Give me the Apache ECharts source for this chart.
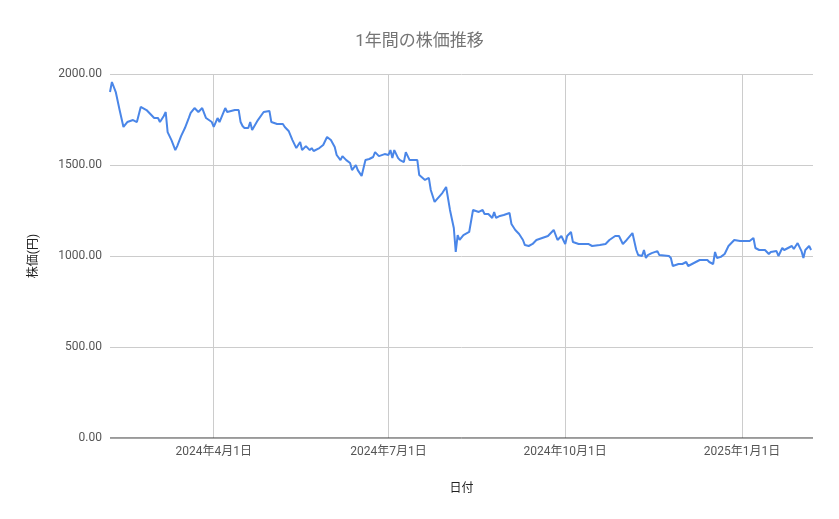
<!DOCTYPE html>
<html><head><meta charset="utf-8">
<script src="https://cdn.jsdelivr.net/npm/echarts@6/dist/echarts.min.js"></script>
<style>html,body{margin:0;padding:0;background:#fff}#c{width:839px;height:519px}</style>
</head><body><div id="c"></div>
<script>
const dates = ["2024-02-07","2024-02-08","2024-02-10","2024-02-12","2024-02-14","2024-02-16","2024-02-19","2024-02-21","2024-02-23","2024-02-26","2024-02-28","2024-03-01","2024-03-03","2024-03-04","2024-03-06","2024-03-07","2024-03-08","2024-03-10","2024-03-12","2024-03-13","2024-03-15","2024-03-17","2024-03-19","2024-03-20","2024-03-22","2024-03-24","2024-03-26","2024-03-28","2024-03-31","2024-04-01","2024-04-03","2024-04-04","2024-04-07","2024-04-08","2024-04-12","2024-04-14","2024-04-15","2024-04-16","2024-04-17","2024-04-19","2024-04-20","2024-04-21","2024-04-24","2024-04-27","2024-04-30","2024-05-01","2024-05-04","2024-05-07","2024-05-08","2024-05-10","2024-05-12","2024-05-13","2024-05-14","2024-05-16","2024-05-17","2024-05-19","2024-05-21","2024-05-22","2024-05-23","2024-05-26","2024-05-28","2024-05-30","2024-06-01","2024-06-03","2024-06-04","2024-06-06","2024-06-07","2024-06-09","2024-06-11","2024-06-12","2024-06-14","2024-06-15","2024-06-17","2024-06-18","2024-06-19","2024-06-21","2024-06-23","2024-06-24","2024-06-26","2024-06-27","2024-06-29","2024-07-01","2024-07-02","2024-07-03","2024-07-04","2024-07-06","2024-07-07","2024-07-09","2024-07-10","2024-07-12","2024-07-16","2024-07-17","2024-07-20","2024-07-22","2024-07-23","2024-07-25","2024-07-29","2024-07-31","2024-08-02","2024-08-04","2024-08-05","2024-08-06","2024-08-07","2024-08-09","2024-08-12","2024-08-14","2024-08-17","2024-08-19","2024-08-20","2024-08-22","2024-08-24","2024-08-25","2024-08-26","2024-08-28","2024-08-30","2024-09-02","2024-09-03","2024-09-05","2024-09-07","2024-09-09","2024-09-10","2024-09-12","2024-09-13","2024-09-14","2024-09-16","2024-09-19","2024-09-22","2024-09-25","2024-09-27","2024-09-29","2024-10-01","2024-10-02","2024-10-04","2024-10-05","2024-10-06","2024-10-08","2024-10-13","2024-10-15","2024-10-19","2024-10-22","2024-10-24","2024-10-27","2024-10-29","2024-10-31","2024-11-02","2024-11-05","2024-11-07","2024-11-08","2024-11-10","2024-11-11","2024-11-12","2024-11-13","2024-11-15","2024-11-18","2024-11-19","2024-11-24","2024-11-25","2024-11-26","2024-11-29","2024-12-01","2024-12-03","2024-12-04","2024-12-05","2024-12-08","2024-12-10","2024-12-11","2024-12-14","2024-12-15","2024-12-17","2024-12-18","2024-12-19","2024-12-21","2024-12-23","2024-12-25","2024-12-27","2024-12-28","2024-12-31","2025-01-02","2025-01-05","2025-01-07","2025-01-08","2025-01-10","2025-01-13","2025-01-15","2025-01-16","2025-01-19","2025-01-20","2025-01-22","2025-01-23","2025-01-25","2025-01-27","2025-01-28","2025-01-29","2025-01-30","2025-02-01","2025-02-02","2025-02-03","2025-02-05","2025-02-06"];
const prices = [1901,1956,1901,1802,1709,1736,1747,1736,1819,1802,1780,1758,1758,1736,1769,1791,1681,1637,1582,1604,1659,1703,1758,1786,1813,1791,1813,1758,1736,1709,1758,1736,1813,1791,1802,1802,1736,1714,1703,1703,1736,1692,1747,1791,1797,1736,1725,1725,1709,1687,1637,1615,1593,1626,1582,1604,1582,1593,1577,1593,1610,1654,1637,1599,1555,1527,1549,1527,1511,1472,1500,1472,1440,1484,1527,1533,1544,1571,1549,1549,1560,1555,1582,1538,1582,1538,1527,1516,1571,1527,1527,1445,1418,1429,1363,1297,1346,1379,1253,1154,1022,1115,1088,1115,1132,1253,1242,1253,1231,1231,1209,1242,1209,1220,1225,1236,1176,1143,1121,1088,1060,1055,1049,1066,1088,1099,1110,1143,1088,1110,1066,1110,1132,1077,1077,1066,1066,1055,1060,1066,1088,1110,1110,1066,1088,1126,1033,1005,1000,1033,989,1005,1016,1027,1005,1000,989,945,956,956,967,945,951,967,978,973,978,967,956,1022,989,995,1011,1055,1077,1088,1082,1082,1082,1099,1044,1033,1033,1011,1022,1027,1000,1044,1033,1044,1055,1038,1055,1071,1027,989,1033,1055,1033];
const xTicks = ["2024-04-01","2024-07-01","2024-10-01","2025-01-01"];
const yTicks = [0,500,1000,1500,2000];

const tick = s => new Date(s + "T00:00:00").getTime();
const fmtDate = s => { const [y,m,d] = s.split('-').map(Number); return y+'年'+m+'月'+d+'日'; };
const chart = echarts.init(document.getElementById('c'));
const font = 'Roboto, "Noto Sans CJK JP", sans-serif';
chart.setOption({
  animation:false,
  title:{text:'1年間の株価推移',left:'center',top:28,textStyle:{fontFamily:font,fontSize:17,fontWeight:'normal',color:'#757575'}},
  grid:{left:110,right:26,top:74,bottom:81},
  xAxis:{type:'time',min:tick('2024-02-07'),max:tick('2025-02-07'),
    name:'日付',nameLocation:'middle',nameGap:45,nameTextStyle:{fontFamily:font,fontSize:12,color:'#222'},
    axisLine:{show:false},axisTick:{show:false},axisLabel:{show:false},splitLine:{show:false}},
  yAxis:{type:'value',min:yTicks[0],max:yTicks[yTicks.length-1],interval:500,
    name:'株価(円)',nameLocation:'middle',nameGap:70,nameTextStyle:{fontFamily:font,fontSize:12,color:'#222'},
    axisLine:{show:false},axisTick:{show:false},
    axisLabel:{fontFamily:font,fontSize:12,color:'#555',formatter:v=>v.toFixed(2)},
    splitLine:{lineStyle:{color:'#cccccc'}}},
  series:[{type:'line',showSymbol:false,data:dates.map((d,i)=>[tick(d),prices[i]]),z:3,
    lineStyle:{color:'#4a86e8',width:2},itemStyle:{color:'#4a86e8'},
    markLine:{silent:true,symbol:'none',animation:false,z:1,
      lineStyle:{color:'#cccccc',type:'solid',width:1},
      label:{position:'start',distance:8,fontFamily:font,fontSize:12,color:'#555',formatter:p=>p.name},
      data:xTicks.map(s=>({xAxis:tick(s),name:fmtDate(s)}))}},
   {type:'line',showSymbol:false,silent:true,data:[[tick('2024-02-07'),0],[tick('2025-02-07'),0]],
    lineStyle:{color:'#333',width:1},z:4}]
});
</script></body></html>
